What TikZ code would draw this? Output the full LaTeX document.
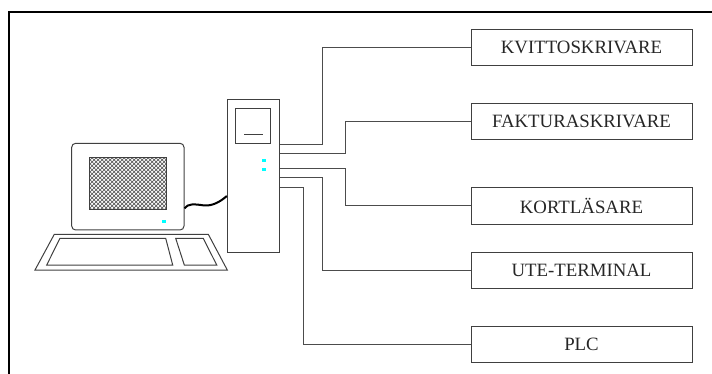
\documentclass[tikz,border=0pt]{standalone}
\usepackage{fontspec}
\setmainfont{Liberation Serif}
\usetikzlibrary{patterns.meta}
\definecolor{ledcyan}{RGB}{0,255,255}
\begin{document}
\begin{tikzpicture}[x=1pt,y=-1pt,
  outline/.style={draw=black!75,line width=1pt},
  devbox/.style={outline,minimum width=221pt,minimum height=36.5pt,inner sep=0pt,
    font=\fontsize{18.8}{20}\selectfont,text=black!85},
  conn/.style={draw=black!70,line width=1pt},
  cable/.style={draw=black,line width=2pt},
  led/.style={fill=ledcyan,draw=none},
  frameline/.style={draw=black,line width=2pt}]
\useasboundingbox (0,0) rectangle (712,374);

% outer frame
\draw[frameline] (9,380) -- (9,12) -- (720,12);

% peripheral devices
\node[devbox] (kvitto)  at (581.5,47.5)  {KVITTOSKRIVARE};
\node[devbox] (faktura) at (581.5,121.5) {FAKTURASKRIVARE};
\node[devbox] (kort)    at (581.5,206)   {KORTLÄSARE};
\node[devbox] (ute)     at (581.5,270.5) {UTE-TERMINAL};
\node[devbox] (plc)     at (581.5,344.5) {PLC};

% computer tower
\node[outline,minimum width=51.7pt,minimum height=152.3pt,inner sep=0pt] (tower) at (253.15,176.15) {};
\draw[outline] (235,109) rectangle (270.7,143.3);
\draw[outline] (244,134.3) -- (262.7,134.3);
\fill[led] (262,159.5) rectangle (266,162.5);
\fill[led] (262,168.2) rectangle (266,171.2);

% monitor
\node[outline,rounded corners=4pt,minimum width=112.3pt,minimum height=86.7pt,inner sep=0pt] (monitor) at (127.85,186.65) {};
\fill[white] (89,157.7) rectangle (166.7,210);
\fill[pattern={Lines[angle=45,distance=2.83pt,line width=0.55pt]},pattern color=black!70] (89,157.7) rectangle (166.7,210);
\fill[pattern={Lines[angle=-45,distance=2.83pt,line width=0.55pt]},pattern color=black!70] (89,157.7) rectangle (166.7,210);
\draw[outline] (89,157.7) rectangle (166.7,210);
\fill[led] (162,220) rectangle (166,223.5);

% keyboard
\draw[outline] (54.3,234.3) -- (208.3,234.3) -- (227.3,270) -- (35,270) -- cycle;
\draw[outline] (60,238.3) -- (165.7,238.3) -- (172.7,265) -- (46.7,265) -- cycle;
\draw[outline] (175.7,238.3) -- (203.3,238.3) -- (216.7,265) -- (184.3,265) -- cycle;

% monitor cable
\coordinate (cabA) at (monitor.east |- 0,208.3);
\coordinate (cabB) at (tower.west |- 0,196);
\draw[cable] (cabA) .. controls (188,203.5) and (194,204) .. (203,205.3)
  .. controls (212,206.5) and (220,202) .. (cabB);

% tower ports
\coordinate (p1) at (tower.east |- 0,145);
\coordinate (p2) at (tower.east |- 0,154);
\coordinate (p3) at (tower.east |- 0,169);
\coordinate (p4) at (tower.east |- 0,177.7);
\coordinate (p5) at (tower.east |- 0,187.3);

% connections
\draw[conn] (p1) -- (322.7,145) |- (kvitto.west);
\draw[conn] (p2) -- (345.7,154) |- (faktura.west);
\draw[conn] (p3) -- (345.7,169) |- (kort.west);
\draw[conn] (p4) -- (322.7,177.7) |- (ute.west);
\draw[conn] (p5) -- (303.5,187.3) |- (plc.west);
\end{tikzpicture}
\end{document}
